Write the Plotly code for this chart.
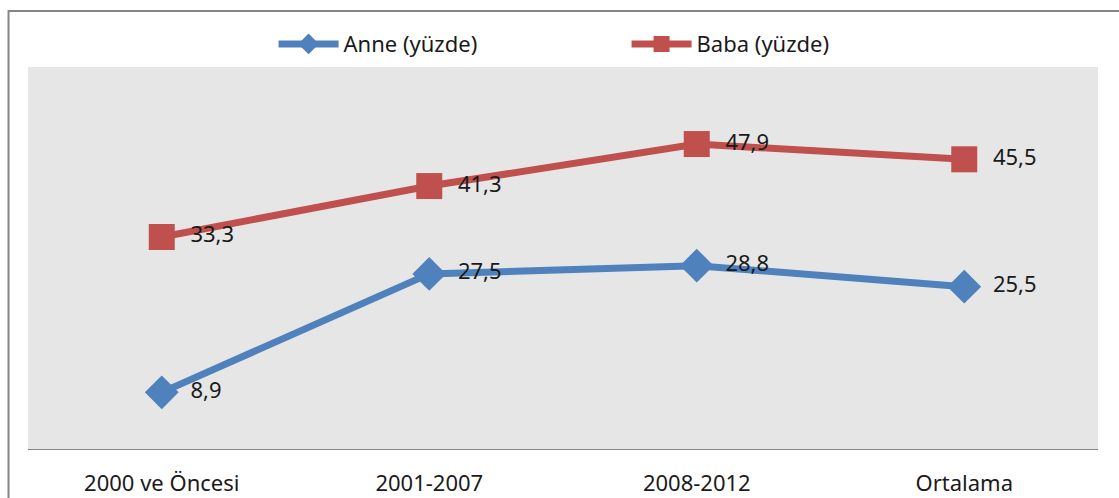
import plotly.graph_objects as go

categories = ["2000 ve Öncesi", "2001-2007", "2008-2012", "Ortalama"]
anne = [8.9, 27.5, 28.8, 25.5]
baba = [33.3, 41.3, 47.9, 45.5]
anne_labels = ["8,9", "27,5", "28,8", "25,5"]
baba_labels = ["33,3", "41,3", "47,9", "45,5"]

FONT = "Noto Sans"
TXT = "#1a1a1a"
FS = 22
fig = go.Figure()
fig.add_trace(go.Scatter(
    x=categories, y=anne, name="Anne (yüzde)", mode="lines+markers+text",
    line=dict(color="#4F81BD", width=7),
    marker=dict(symbol="diamond", size=26, color="#4F81BD"),
    text=anne_labels, texttemplate="  %{text}", textposition="middle right",
    textfont=dict(family=FONT, size=FS, color=TXT),
))
fig.add_trace(go.Scatter(
    x=categories, y=baba, name="Baba (yüzde)", mode="lines+markers+text",
    line=dict(color="#C0504D", width=7),
    marker=dict(symbol="square", size=26, color="#C0504D"),
    text=baba_labels, texttemplate="  %{text}", textposition="middle right",
    textfont=dict(family=FONT, size=FS, color=TXT),
))

fig.add_shape(type="rect", xref="paper", yref="paper",
              x0=-0.0182, y0=-0.3, x1=1.05, y1=1.1466,
              line=dict(color="#868686", width=2), fillcolor="rgba(0,0,0,0)", layer="below")

fig.update_layout(
    width=1119, height=498,
    margin=dict(l=28, r=21, t=67, b=49, autoexpand=False),
    paper_bgcolor="white", plot_bgcolor="#E6E6E6",
    font=dict(family=FONT, size=FS, color=TXT),
    showlegend=True,
    legend=dict(orientation="h", x=0.2295, xanchor="left", y=1.06, yanchor="middle",
                font=dict(family=FONT, size=FS, color=TXT),
                itemwidth=60, entrywidth=278, bgcolor="rgba(0,0,0,0)"),
    xaxis=dict(range=[-0.5, 3.5], showgrid=False, zeroline=False, showline=True,
               linecolor="#868686", linewidth=1, ticks="", ticklabelstandoff=15,
               tickfont=dict(family=FONT, size=FS, color=TXT)),
    yaxis=dict(range=[0, 60], visible=False, showgrid=False),
)
fig.write_html("out.html", config={"displayModeBar": False},
               post_script="document.body.style.margin='0';document.body.style.overflow='hidden';")
